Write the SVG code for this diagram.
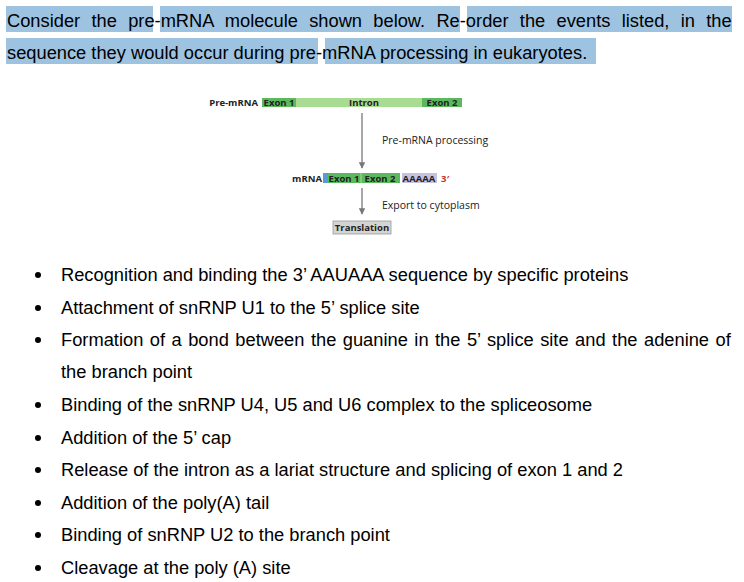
<svg xmlns="http://www.w3.org/2000/svg" width="744" height="582" viewBox="0 0 744 582">
<style>
.t{font-family:"Liberation Sans",Arial,sans-serif;font-size:18.3px;fill:#000}
.d{font-family:"Open Sans","DejaVu Sans",sans-serif;font-size:9.5px;font-weight:bold;fill:#222}
.n{font-family:"Open Sans","DejaVu Sans",sans-serif;font-size:10.5px;fill:#222}
.hl{fill:#9dc3e0}
.ar{stroke:#777;stroke-width:1.3}
</style>
<defs><marker id="ah" viewBox="0 0 10 10" refX="9" refY="5" markerWidth="5" markerHeight="5" orient="auto"><path d="M0,0L10,5L0,10z" fill="#777"/></marker></defs>
<g id="question">
<rect class="hl" x="6" y="6" width="147" height="26"/><rect class="hl" x="160" y="6" width="300" height="26"/><rect class="hl" x="467" y="6" width="265" height="26"/>
<rect class="hl" x="6" y="38" width="312" height="26"/><rect class="hl" x="325" y="38" width="271" height="26"/>
<text class="t" x="7" y="27" word-spacing="6.2">Consider the pre-mRNA molecule shown below. Re-order the events listed, in the</text>
<text class="t" x="7" y="59">sequence they would occur during pre-mRNA processing in eukaryotes.</text>
</g>
<g id="premrna">
<text class="d" x="258" y="106" text-anchor="end">Pre-mRNA</text>
<rect x="262" y="98" width="200" height="9" fill="#a8dc90"/>
<rect x="262" y="98" width="34" height="9" fill="#5cb85c"/>
<rect x="422" y="98" width="40" height="9" fill="#5cb85c"/>
<text class="d" x="279" y="106" text-anchor="middle">Exon 1</text>
<text class="d" x="364" y="106" text-anchor="middle">Intron</text>
<text class="d" x="442" y="106" text-anchor="middle">Exon 2</text>
</g>
<g id="mrna">
<text class="d" x="322" y="182" text-anchor="end">mRNA</text>
<rect x="323" y="173" width="5" height="10" fill="#5b9bd5"/>
<rect x="328" y="173" width="72" height="10" fill="#5cb85c"/>
<line x1="361" y1="173" x2="361" y2="183" stroke="#a8dc90"/>
<rect x="402" y="173" width="35" height="10" fill="#c8c0e0"/>
<text class="d" x="344" y="182" text-anchor="middle">Exon 1</text>
<text class="d" x="380" y="182" text-anchor="middle">Exon 2</text>
<text class="d" x="419" y="182" text-anchor="middle" fill="#334">AAAAA</text>
<text class="d" x="441" y="182" style="fill:#c0392b" font-size="8">3′</text>
</g>
<g id="translation">
<rect x="333" y="221" width="58" height="13" fill="#d4d4d4" stroke="#999" stroke-width="0.8"/>
<text class="d" x="362" y="231" text-anchor="middle">Translation</text>
</g>
<g id="connectors">
<line class="ar" x1="362" y1="113" x2="362" y2="168" marker-end="url(#ah)"/>
<line class="ar" x1="362" y1="188" x2="362" y2="214" marker-end="url(#ah)"/>
<text class="n" x="382" y="144">Pre-mRNA processing</text>
<text class="n" x="382" y="209">Export to cytoplasm</text>
</g>
<g id="list">
<g fill="#000"><circle cx="38" cy="275" r="3"/><circle cx="38" cy="308" r="3"/><circle cx="38" cy="340" r="3"/><circle cx="38" cy="405" r="3"/><circle cx="38" cy="438" r="3"/><circle cx="38" cy="470" r="3"/><circle cx="38" cy="503" r="3"/><circle cx="38" cy="535" r="3"/><circle cx="38" cy="568" r="3"/></g>
<text class="t" x="61" y="281">Recognition and binding the 3’ AAUAAA sequence by specific proteins</text>
<text class="t" x="61" y="314">Attachment of snRNP U1 to the 5’ splice site</text>
<text class="t" x="61" y="346" word-spacing="1.4">Formation of a bond between the guanine in the 5’ splice site and the adenine of</text>
<text class="t" x="61" y="378">the branch point</text>
<text class="t" x="61" y="411">Binding of the snRNP U4, U5 and U6 complex to the spliceosome</text>
<text class="t" x="61" y="444">Addition of the 5’ cap</text>
<text class="t" x="61" y="476">Release of the intron as a lariat structure and splicing of exon 1 and 2</text>
<text class="t" x="61" y="509">Addition of the poly(A) tail</text>
<text class="t" x="61" y="541">Binding of snRNP U2 to the branch point</text>
<text class="t" x="61" y="574">Cleavage at the poly (A) site</text>
</g>
</svg>
